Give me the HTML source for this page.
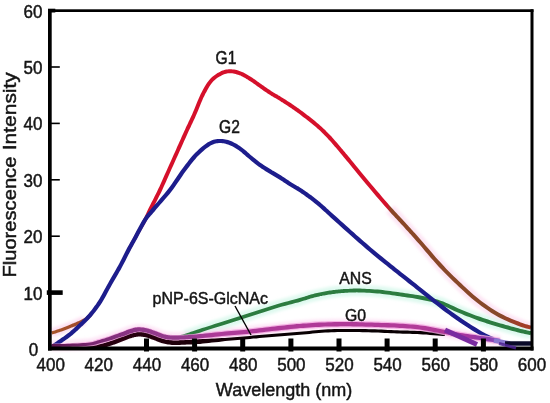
<!DOCTYPE html>
<html><head><meta charset="utf-8"><title>Fluorescence spectra</title>
<style>html,body{margin:0;padding:0;background:#fff}svg{display:block}text{font-family:"Liberation Sans",Arial,Helvetica,sans-serif;fill:#141414;stroke:#141414;stroke-width:0.45px}</style></head>
<body>
<svg width="550" height="403" viewBox="0 0 550 403">
<rect width="550" height="403" fill="#fff"/>
<defs>
<linearGradient id="gr" gradientUnits="userSpaceOnUse" x1="50" y1="0" x2="532" y2="0">
<stop offset="0.0041" stop-color="#a8562a"/>
<stop offset="0.0622" stop-color="#a04a2c"/>
<stop offset="0.0934" stop-color="#a04a2c"/>
<stop offset="0.1556" stop-color="#d5102b"/>
<stop offset="0.6992" stop-color="#d5102b"/>
<stop offset="0.7075" stop-color="#8a4626"/>
<stop offset="0.9336" stop-color="#86482a"/>
<stop offset="0.9647" stop-color="#9c3e28"/>
<stop offset="1.0000" stop-color="#a83a28"/>
</linearGradient>
<linearGradient id="gm" gradientUnits="userSpaceOnUse" x1="50" y1="0" x2="532" y2="0">
<stop offset="0.0041" stop-color="#5e1550"/>
<stop offset="0.0934" stop-color="#7a2872"/>
<stop offset="0.1867" stop-color="#90388a"/>
<stop offset="0.2905" stop-color="#963a8e"/>
<stop offset="0.3423" stop-color="#ad3a98"/>
<stop offset="0.8091" stop-color="#b23a98"/>
<stop offset="0.8714" stop-color="#a234a0"/>
<stop offset="0.9129" stop-color="#8a3cb0"/>
<stop offset="0.9336" stop-color="#8a60c8"/>
</linearGradient>
<linearGradient id="gh" gradientUnits="userSpaceOnUse" x1="50" y1="0" x2="532" y2="0">
<stop offset="0.0041" stop-color="#f3a6e0"/>
<stop offset="0.9336" stop-color="#f3a6e0"/>
</linearGradient>
<linearGradient id="gk" gradientUnits="userSpaceOnUse" x1="50" y1="0" x2="532" y2="0">
<stop offset="0.0041" stop-color="#12000a"/>
<stop offset="0.1452" stop-color="#2a0010"/>
<stop offset="0.3112" stop-color="#1a0008"/>
<stop offset="0.4357" stop-color="#080002"/>
<stop offset="1.0000" stop-color="#080002"/>
</linearGradient>
</defs>
<filter id="bl" x="-5%" y="-5%" width="110%" height="110%"><feGaussianBlur stdDeviation="1.6"/></filter>
<g fill="none" filter="url(#bl)" stroke-linecap="butt">
<path d="M390.0,209.0 C391.7,210.8 396.7,216.2 400.0,219.8 C403.3,223.4 406.7,227.1 410.0,230.8 C413.3,234.5 415.0,236.3 420.0,242.0 C425.0,247.7 433.3,257.8 440.0,265.0 C446.7,272.2 453.3,278.8 460.0,285.0 C466.7,291.2 473.3,297.4 480.0,302.5 C486.7,307.6 493.3,312.0 500.0,315.6 C506.7,319.2 514.8,322.3 520.0,324.3 C525.2,326.3 529.2,327.1 531.0,327.6" stroke="#fbd3ec" stroke-width="11" opacity="0.6"/>
<path d="M51.7,333.0 C53.1,332.6 57.0,331.4 60.0,330.3 C63.0,329.2 67.0,327.7 70.0,326.5 C73.0,325.3 75.7,324.2 78.0,323.2 C80.3,322.2 83.0,320.8 84.0,320.3" stroke="#fbd3ec" stroke-width="9" opacity="0.7"/>
<path d="M185.0,335.7 C187.5,334.9 193.3,332.9 200.0,330.7 C206.7,328.5 216.7,325.4 225.0,322.7 C233.3,320.0 241.7,317.4 250.0,314.7 C258.3,312.0 266.7,309.2 275.0,306.7 C283.3,304.2 294.2,301.5 300.0,299.9 C305.8,298.2 306.7,297.7 310.0,296.8 C313.3,295.9 316.7,295.0 320.0,294.3 C323.3,293.6 326.7,293.0 330.0,292.5 C333.3,292.0 336.7,291.6 340.0,291.3 C343.3,291.0 346.7,290.8 350.0,290.7 C353.3,290.6 355.0,290.3 360.0,290.5 C365.0,290.7 373.3,291.1 380.0,291.7 C386.7,292.3 393.3,293.4 400.0,294.4 C406.7,295.4 413.3,296.1 420.0,297.5 C426.7,298.9 433.3,300.2 440.0,302.5 C446.7,304.8 453.3,308.6 460.0,311.3 C466.7,314.1 473.3,316.7 480.0,319.0 C486.7,321.3 493.3,323.3 500.0,325.3 C506.7,327.3 514.8,329.5 520.0,330.8 C525.2,332.1 529.2,332.8 531.0,333.2" stroke="#cdf6e6" stroke-width="11" opacity="0.65"/>
<path d="M51.7,345.5 C54.8,345.4 63.6,345.4 70.0,345.2 C76.4,344.9 85.0,344.6 90.0,344.0 C95.0,343.4 96.7,342.4 100.0,341.5 C103.3,340.6 106.7,339.6 110.0,338.5 C113.3,337.4 117.5,335.9 120.0,335.0 C122.5,334.1 123.3,333.9 125.0,333.3 C126.7,332.7 127.8,331.9 130.0,331.3 C132.2,330.7 135.3,329.7 138.0,329.5 C140.7,329.3 143.2,329.7 146.0,330.3 C148.8,330.9 152.2,332.2 155.0,333.2 C157.8,334.2 160.5,335.5 163.0,336.2 C165.5,336.9 167.2,337.3 170.0,337.5 C172.8,337.7 176.7,337.7 180.0,337.6 C183.3,337.5 186.7,337.2 190.0,337.0 C193.3,336.8 194.2,336.8 200.0,336.2 C205.8,335.6 216.7,334.5 225.0,333.7 C233.3,332.9 241.7,332.4 250.0,331.5 C258.3,330.6 266.7,329.5 275.0,328.6 C283.3,327.7 291.7,326.7 300.0,326.0 C308.3,325.3 316.7,324.8 325.0,324.5 C333.3,324.2 341.7,324.1 350.0,324.2 C358.3,324.2 366.7,324.5 375.0,324.8 C383.3,325.1 392.5,325.4 400.0,325.8 C407.5,326.2 413.3,326.6 420.0,327.5 C426.7,328.4 433.3,329.8 440.0,331.0 C446.7,332.2 453.3,333.8 460.0,335.0 C466.7,336.2 473.3,337.0 480.0,338.0 C486.7,339.0 496.7,340.5 500.0,341.0" stroke="#fbd0ee" stroke-width="11" opacity="0.55"/>
</g>
<g stroke="none">
<path d="M52.2,334.4 L52.8,334.3 L53.6,334.0 L54.6,333.7 L55.7,333.4 L56.9,333.0 L58.1,332.6 L59.3,332.2 L60.5,331.8 L61.7,331.4 L63.0,330.9 L64.3,330.5 L65.6,330.0 L66.9,329.5 L68.2,329.0 L69.4,328.5 L70.6,328.1 L71.7,327.6 L72.8,327.2 L73.9,326.8 L74.9,326.4 L75.9,326.0 L76.9,325.6 L77.8,325.2 L78.7,324.8 L79.6,324.4 L80.4,324.0 L81.2,323.7 L82.0,323.3 L82.8,322.9 L83.5,322.6 L84.2,322.2 L84.9,321.8 L85.5,321.5 L86.1,321.1 L86.6,320.8 L87.2,320.4 L87.7,320.0 L88.2,319.6 L88.7,319.2 L89.2,318.7 L89.8,318.1 L90.4,317.5 L91.0,316.8 L91.6,316.1 L92.2,315.4 L92.7,314.8 L93.1,314.3 L93.4,314.0 L90.6,311.6 L90.3,312.0 L89.9,312.5 L89.4,313.1 L88.9,313.8 L88.3,314.4 L87.8,315.1 L87.2,315.6 L86.8,316.1 L86.3,316.5 L85.9,316.9 L85.5,317.2 L85.1,317.5 L84.7,317.8 L84.2,318.1 L83.7,318.4 L83.1,318.8 L82.5,319.1 L81.9,319.5 L81.2,319.8 L80.5,320.2 L79.8,320.5 L79.0,320.9 L78.2,321.2 L77.3,321.6 L76.4,322.0 L75.5,322.4 L74.6,322.8 L73.6,323.2 L72.6,323.6 L71.6,324.1 L70.5,324.5 L69.4,324.9 L68.2,325.4 L67.0,325.9 L65.7,326.4 L64.4,326.9 L63.1,327.4 L61.9,327.9 L60.6,328.4 L59.5,328.8 L58.3,329.2 L57.1,329.6 L55.9,330.0 L54.8,330.4 L53.7,330.8 L52.7,331.1 L51.9,331.3 L51.2,331.6Z" fill="url(#gr)"/>
<path d="M130.0,250.8 L130.4,250.1 L130.8,249.3 L131.4,248.2 L132.1,247.1 L132.8,245.7 L133.6,244.3 L134.5,242.6 L135.5,240.8 L136.6,238.7 L138.0,236.3 L139.5,233.6 L141.0,230.8 L142.6,228.0 L144.1,225.4 L145.5,223.0 L146.6,220.9 L147.5,219.2 L148.2,217.9 L148.8,216.8 L149.3,215.8 L149.8,214.9 L150.3,213.8 L150.9,212.5 L151.8,210.9 L152.8,208.9 L154.0,206.6 L155.2,204.1 L156.5,201.5 L157.9,198.8 L159.2,196.1 L160.6,193.4 L161.8,190.9 L163.0,188.3 L164.1,185.8 L165.3,183.3 L166.4,180.8 L167.5,178.3 L168.6,175.8 L169.7,173.3 L170.8,170.8 L171.9,168.3 L173.1,165.8 L174.2,163.3 L175.3,160.8 L176.4,158.3 L177.6,155.8 L178.7,153.3 L179.8,150.8 L181.0,148.3 L182.1,145.7 L183.3,143.1 L184.4,140.5 L185.6,138.0 L186.7,135.5 L187.8,133.1 L188.8,130.8 L189.8,128.8 L190.7,126.9 L191.5,125.1 L192.3,123.4 L193.2,121.6 L194.0,119.8 L194.9,117.9 L195.8,115.8 L196.8,113.5 L197.9,111.0 L198.9,108.4 L200.0,105.7 L201.1,103.0 L202.2,100.5 L203.2,98.1 L204.3,95.9 L205.3,93.8 L206.4,91.9 L207.4,90.0 L208.4,88.2 L209.4,86.6 L210.4,85.0 L211.5,83.6 L212.5,82.3 L213.6,81.1 L214.8,80.0 L215.9,79.0 L217.1,78.1 L218.3,77.3 L219.6,76.6 L220.8,75.9 L221.9,75.3 L223.0,74.8 L224.0,74.3 L225.0,74.0 L226.0,73.7 L227.0,73.5 L227.9,73.3 L229.0,73.2 L230.0,73.2 L231.1,73.2 L232.2,73.3 L233.3,73.5 L234.5,73.7 L235.7,74.0 L236.9,74.4 L238.1,74.7 L239.3,75.2 L240.5,75.6 L241.6,76.2 L242.8,76.8 L244.0,77.4 L245.2,78.1 L246.5,78.9 L247.7,79.6 L248.9,80.4 L250.2,81.2 L251.4,82.0 L252.6,82.8 L253.8,83.7 L255.1,84.6 L256.3,85.5 L257.6,86.4 L258.9,87.3 L260.1,88.2 L261.3,89.1 L262.6,90.0 L263.9,90.9 L265.1,91.7 L266.4,92.6 L267.6,93.4 L268.9,94.3 L270.2,95.1 L271.5,95.9 L272.7,96.6 L274.0,97.4 L275.2,98.1 L276.5,98.8 L277.7,99.5 L279.0,100.3 L280.2,101.1 L281.4,101.9 L282.7,102.6 L283.9,103.4 L285.2,104.2 L286.4,105.0 L287.6,105.8 L288.9,106.7 L290.1,107.5 L291.4,108.3 L292.6,109.2 L293.9,110.1 L295.1,110.9 L296.3,111.8 L297.6,112.7 L298.8,113.6 L300.1,114.5 L301.3,115.5 L302.5,116.4 L303.8,117.4 L305.0,118.3 L306.3,119.3 L307.5,120.3 L308.8,121.3 L310.0,122.3 L311.3,123.3 L312.5,124.3 L313.7,125.3 L315.0,126.3 L316.2,127.3 L317.4,128.4 L318.7,129.5 L319.9,130.6 L321.1,131.8 L322.3,133.0 L323.6,134.2 L324.8,135.5 L326.1,136.7 L327.3,138.0 L328.5,139.4 L329.8,140.7 L331.0,142.1 L332.2,143.5 L333.5,144.9 L334.7,146.4 L336.0,147.8 L337.2,149.3 L338.5,150.8 L339.7,152.2 L340.7,153.5 L341.8,154.7 L342.8,156.0 L344.0,157.4 L345.3,158.9 L346.7,160.7 L348.5,162.8 L350.5,165.2 L352.7,168.0 L355.2,171.0 L357.8,174.2 L360.5,177.5 L363.2,180.8 L365.9,184.0 L368.5,187.1 L371.0,190.1 L373.7,193.3 L376.4,196.4 L379.1,199.6 L381.7,202.6 L384.2,205.4 L386.5,208.0 L388.5,210.3 L390.2,212.3 L391.7,213.9 L393.0,215.3 L394.2,216.5 L395.2,217.7 L396.3,218.8 L397.4,219.9 L398.5,221.2 L399.8,222.5 L401.0,223.9 L402.3,225.2 L403.5,226.6 L404.8,228.0 L406.0,229.4 L407.3,230.8 L408.5,232.1 L409.7,233.5 L410.8,234.6 L411.8,235.8 L412.9,237.0 L414.0,238.3 L415.3,239.7 L416.8,241.4 L418.5,243.3 L420.5,245.6 L422.8,248.3 L425.2,251.2 L427.9,254.3 L430.5,257.4 L433.3,260.5 L435.9,263.5 L438.5,266.4 L441.0,269.0 L443.6,271.7 L446.1,274.2 L448.6,276.8 L451.1,279.2 L453.6,281.7 L456.1,284.1 L458.6,286.5 L461.1,288.8 L463.6,291.1 L466.2,293.4 L468.7,295.7 L471.2,297.9 L473.7,300.0 L476.2,302.1 L478.8,304.1 L481.3,306.0 L483.8,307.8 L486.4,309.6 L488.9,311.3 L491.4,312.9 L494.0,314.5 L496.5,315.9 L499.1,317.4 L501.7,318.7 L504.4,320.0 L507.1,321.3 L509.8,322.4 L512.4,323.5 L514.9,324.5 L517.2,325.4 L519.3,326.2 L521.2,326.9 L523.0,327.5 L524.7,328.0 L526.2,328.4 L527.6,328.8 L528.7,329.1 L529.7,329.3 L530.5,329.5 L531.5,325.7 L530.7,325.4 L529.7,325.2 L528.6,324.9 L527.3,324.6 L525.8,324.2 L524.3,323.7 L522.5,323.1 L520.7,322.4 L518.7,321.6 L516.4,320.7 L513.9,319.8 L511.3,318.7 L508.7,317.6 L506.1,316.4 L503.5,315.1 L500.9,313.8 L498.5,312.5 L496.0,311.0 L493.6,309.5 L491.1,307.9 L488.6,306.3 L486.2,304.6 L483.7,302.8 L481.2,300.9 L478.8,299.0 L476.3,297.0 L473.8,294.9 L471.3,292.7 L468.8,290.5 L466.4,288.2 L463.9,285.9 L461.4,283.5 L458.9,281.2 L456.4,278.8 L453.9,276.4 L451.4,273.9 L448.9,271.4 L446.4,268.9 L444.0,266.3 L441.5,263.6 L438.9,260.8 L436.3,257.9 L433.6,254.8 L430.9,251.6 L428.3,248.6 L425.8,245.7 L423.5,243.0 L421.5,240.7 L419.8,238.7 L418.3,237.0 L417.0,235.6 L415.9,234.3 L414.8,233.1 L413.7,232.0 L412.7,230.8 L411.5,229.5 L410.2,228.1 L409.0,226.7 L407.7,225.3 L406.5,223.9 L405.2,222.6 L404.0,221.2 L402.7,219.8 L401.5,218.4 L400.3,217.2 L399.2,216.0 L398.1,214.9 L397.1,213.8 L395.9,212.6 L394.7,211.2 L393.2,209.6 L391.5,207.7 L389.5,205.4 L387.2,202.8 L384.7,199.9 L382.1,196.9 L379.5,193.8 L376.8,190.7 L374.1,187.5 L371.5,184.5 L369.0,181.5 L366.3,178.2 L363.6,175.0 L360.9,171.7 L358.3,168.5 L355.8,165.5 L353.6,162.7 L351.5,160.2 L349.8,158.1 L348.3,156.3 L347.1,154.8 L345.9,153.4 L344.8,152.1 L343.8,150.9 L342.7,149.6 L341.5,148.2 L340.3,146.7 L339.0,145.3 L337.8,143.8 L336.5,142.3 L335.3,140.9 L334.0,139.4 L332.7,138.0 L331.5,136.6 L330.2,135.3 L328.9,134.0 L327.7,132.7 L326.4,131.4 L325.2,130.1 L323.9,128.9 L322.6,127.7 L321.3,126.5 L320.1,125.4 L318.8,124.3 L317.5,123.2 L316.3,122.2 L315.0,121.1 L313.7,120.1 L312.5,119.1 L311.2,118.1 L310.0,117.1 L308.7,116.1 L307.5,115.2 L306.2,114.2 L305.0,113.2 L303.7,112.3 L302.4,111.3 L301.2,110.4 L299.9,109.5 L298.7,108.6 L297.4,107.7 L296.1,106.8 L294.9,105.9 L293.6,105.0 L292.4,104.2 L291.1,103.3 L289.9,102.5 L288.6,101.7 L287.3,100.9 L286.1,100.1 L284.8,99.3 L283.6,98.5 L282.3,97.7 L281.0,96.9 L279.8,96.1 L278.5,95.4 L277.3,94.6 L276.0,93.9 L274.8,93.2 L273.5,92.4 L272.3,91.7 L271.1,90.9 L269.9,90.1 L268.6,89.3 L267.4,88.4 L266.1,87.6 L264.9,86.7 L263.7,85.8 L262.4,84.9 L261.1,84.1 L259.9,83.2 L258.7,82.3 L257.4,81.4 L256.2,80.5 L254.9,79.6 L253.6,78.7 L252.3,77.8 L251.1,77.0 L249.8,76.2 L248.5,75.4 L247.3,74.7 L246.0,73.9 L244.7,73.2 L243.4,72.6 L242.0,72.0 L240.7,71.4 L239.4,71.0 L238.1,70.5 L236.7,70.1 L235.4,69.8 L234.0,69.5 L232.7,69.4 L231.3,69.2 L230.0,69.2 L228.7,69.2 L227.5,69.4 L226.2,69.5 L225.0,69.8 L223.8,70.2 L222.6,70.6 L221.3,71.1 L220.1,71.7 L218.8,72.4 L217.5,73.1 L216.2,74.0 L214.8,74.9 L213.4,75.9 L212.1,77.1 L210.8,78.3 L209.5,79.7 L208.3,81.2 L207.1,82.8 L206.0,84.4 L204.9,86.2 L203.9,88.1 L202.8,90.0 L201.8,92.0 L200.7,94.1 L199.6,96.4 L198.5,98.9 L197.4,101.5 L196.3,104.2 L195.2,106.9 L194.2,109.5 L193.1,111.9 L192.2,114.2 L191.2,116.3 L190.4,118.1 L189.5,119.9 L188.7,121.6 L187.9,123.4 L187.0,125.2 L186.1,127.1 L185.2,129.2 L184.1,131.4 L183.1,133.8 L181.9,136.3 L180.8,138.9 L179.6,141.5 L178.5,144.1 L177.3,146.6 L176.2,149.2 L175.1,151.7 L173.9,154.2 L172.8,156.7 L171.7,159.2 L170.6,161.7 L169.4,164.2 L168.3,166.7 L167.2,169.2 L166.1,171.7 L164.9,174.2 L163.8,176.7 L162.7,179.2 L161.6,181.7 L160.5,184.2 L159.4,186.7 L158.2,189.1 L157.0,191.7 L155.7,194.3 L154.3,197.0 L153.0,199.7 L151.6,202.3 L150.4,204.8 L149.2,207.1 L148.2,209.1 L147.4,210.8 L146.8,212.1 L146.3,213.2 L145.8,214.2 L145.4,215.1 L144.9,216.2 L144.2,217.5 L143.4,219.1 L142.3,221.2 L141.0,223.7 L139.6,226.4 L138.0,229.2 L136.5,232.0 L135.0,234.6 L133.7,237.1 L132.5,239.2 L131.5,241.0 L130.6,242.6 L129.8,244.1 L129.1,245.4 L128.4,246.6 L127.9,247.6 L127.4,248.5 L127.0,249.2Z" fill="url(#gr)"/>
<path d="M168.0,339.2 L168.6,339.3 L169.4,339.4 L170.3,339.5 L171.4,339.6 L172.6,339.6 L173.8,339.7 L175.0,339.7 L176.2,339.6 L177.3,339.5 L178.4,339.3 L179.4,339.1 L180.5,338.9 L181.6,338.6 L182.8,338.2 L184.1,337.9 L185.5,337.4 L187.1,336.9 L188.7,336.4 L190.3,335.9 L192.1,335.3 L194.0,334.6 L196.0,333.9 L198.2,333.2 L200.6,332.4 L203.2,331.6 L206.1,330.6 L209.2,329.6 L212.4,328.6 L215.7,327.6 L219.1,326.5 L222.4,325.5 L225.6,324.4 L228.7,323.4 L231.8,322.4 L234.9,321.4 L238.1,320.4 L241.2,319.4 L244.3,318.4 L247.4,317.5 L250.6,316.5 L253.7,315.4 L256.8,314.4 L259.9,313.4 L263.1,312.4 L266.2,311.4 L269.3,310.4 L272.4,309.4 L275.5,308.5 L278.7,307.6 L282.1,306.6 L285.5,305.7 L288.9,304.8 L292.2,303.9 L295.3,303.1 L298.1,302.4 L300.5,301.7 L302.5,301.1 L304.1,300.6 L305.4,300.2 L306.5,299.9 L307.5,299.5 L308.4,299.2 L309.4,298.9 L310.5,298.6 L311.7,298.3 L313.0,297.9 L314.2,297.6 L315.5,297.3 L316.7,297.0 L317.9,296.7 L319.2,296.4 L320.4,296.1 L321.6,295.9 L322.9,295.6 L324.1,295.4 L325.3,295.2 L326.6,295.0 L327.8,294.8 L329.0,294.6 L330.3,294.4 L331.5,294.2 L332.8,294.0 L334.0,293.9 L335.2,293.7 L336.5,293.6 L337.7,293.4 L338.9,293.3 L340.2,293.2 L341.4,293.1 L342.6,293.0 L343.9,292.9 L345.1,292.8 L346.3,292.8 L347.6,292.7 L348.8,292.6 L350.1,292.6 L351.3,292.5 L352.4,292.5 L353.4,292.4 L354.4,292.4 L355.6,292.4 L356.8,292.3 L358.2,292.4 L359.9,292.4 L361.9,292.5 L364.2,292.6 L366.7,292.7 L369.3,292.8 L371.9,293.0 L374.6,293.2 L377.3,293.4 L379.8,293.6 L382.3,293.9 L384.8,294.2 L387.2,294.5 L389.7,294.8 L392.2,295.2 L394.7,295.6 L397.2,295.9 L399.7,296.3 L402.2,296.7 L404.7,297.0 L407.2,297.4 L409.7,297.7 L412.2,298.1 L414.7,298.5 L417.2,298.9 L419.6,299.4 L422.1,299.9 L424.6,300.4 L427.1,301.0 L429.5,301.5 L432.0,302.1 L434.5,302.8 L436.9,303.5 L439.4,304.3 L441.8,305.2 L444.2,306.3 L446.7,307.3 L449.2,308.5 L451.7,309.7 L454.2,310.9 L456.7,312.0 L459.2,313.1 L461.8,314.1 L464.3,315.2 L466.8,316.2 L469.3,317.1 L471.8,318.1 L474.3,319.0 L476.8,320.0 L479.3,320.9 L481.9,321.7 L484.4,322.6 L486.9,323.4 L489.4,324.2 L491.9,324.9 L494.4,325.7 L496.9,326.5 L499.4,327.2 L502.0,328.0 L504.7,328.7 L507.4,329.5 L510.0,330.2 L512.6,330.9 L515.1,331.6 L517.4,332.2 L519.5,332.7 L521.4,333.2 L523.2,333.6 L524.8,334.0 L526.3,334.3 L527.7,334.6 L528.8,334.8 L529.8,335.0 L530.6,335.2 L531.4,331.2 L530.6,331.1 L529.6,330.9 L528.5,330.7 L527.2,330.4 L525.7,330.1 L524.1,329.7 L522.3,329.3 L520.5,328.9 L518.4,328.3 L516.1,327.7 L513.7,327.1 L511.1,326.4 L508.4,325.6 L505.8,324.9 L503.1,324.1 L500.6,323.4 L498.1,322.7 L495.6,321.9 L493.1,321.2 L490.6,320.4 L488.1,319.6 L485.6,318.8 L483.1,318.0 L480.7,317.1 L478.2,316.3 L475.7,315.4 L473.2,314.4 L470.7,313.5 L468.2,312.5 L465.7,311.5 L463.2,310.5 L460.8,309.5 L458.3,308.4 L455.8,307.3 L453.3,306.1 L450.8,305.0 L448.3,303.8 L445.8,302.7 L443.2,301.6 L440.6,300.7 L438.1,299.8 L435.5,299.1 L433.0,298.4 L430.5,297.8 L427.9,297.2 L425.4,296.6 L422.9,296.1 L420.4,295.6 L417.8,295.1 L415.3,294.7 L412.8,294.3 L410.3,293.9 L407.8,293.5 L405.3,293.2 L402.8,292.8 L400.3,292.5 L397.8,292.1 L395.3,291.8 L392.8,291.4 L390.3,291.0 L387.8,290.7 L385.2,290.4 L382.7,290.1 L380.2,289.8 L377.6,289.6 L374.9,289.4 L372.2,289.2 L369.5,289.0 L366.9,288.9 L364.4,288.8 L362.1,288.7 L360.1,288.6 L358.3,288.6 L356.8,288.5 L355.5,288.6 L354.3,288.6 L353.2,288.6 L352.2,288.7 L351.1,288.8 L349.9,288.8 L348.7,288.9 L347.4,288.9 L346.2,289.0 L344.9,289.0 L343.6,289.1 L342.4,289.2 L341.1,289.3 L339.8,289.4 L338.6,289.5 L337.3,289.7 L336.0,289.8 L334.8,290.0 L333.5,290.1 L332.2,290.3 L331.0,290.5 L329.7,290.6 L328.5,290.8 L327.2,291.0 L325.9,291.2 L324.7,291.5 L323.4,291.7 L322.1,291.9 L320.9,292.2 L319.6,292.5 L318.3,292.7 L317.1,293.0 L315.8,293.3 L314.5,293.6 L313.3,294.0 L312.0,294.3 L310.8,294.6 L309.5,295.0 L308.3,295.3 L307.3,295.7 L306.3,296.0 L305.3,296.3 L304.3,296.7 L303.0,297.1 L301.4,297.5 L299.5,298.1 L297.1,298.8 L294.3,299.5 L291.2,300.3 L288.0,301.2 L284.6,302.1 L281.1,303.0 L277.7,304.0 L274.5,304.9 L271.3,305.9 L268.2,306.9 L265.1,307.9 L261.9,308.9 L258.8,309.9 L255.7,310.9 L252.6,311.9 L249.4,312.9 L246.3,313.9 L243.2,315.0 L240.1,316.0 L236.9,317.0 L233.8,318.0 L230.7,319.0 L227.6,320.0 L224.4,321.0 L221.3,322.0 L218.0,323.0 L214.6,324.1 L211.3,325.2 L208.1,326.2 L205.0,327.2 L202.1,328.1 L199.4,329.0 L197.0,329.8 L194.8,330.5 L192.8,331.2 L190.9,331.8 L189.2,332.4 L187.5,333.0 L186.0,333.5 L184.5,334.0 L183.1,334.4 L181.8,334.8 L180.6,335.1 L179.6,335.4 L178.6,335.7 L177.7,336.0 L176.8,336.2 L175.8,336.4 L174.8,336.5 L173.7,336.6 L172.6,336.7 L171.5,336.7 L170.4,336.7 L169.5,336.7 L168.7,336.7 L168.0,336.8Z" fill="#2c7c40"/>
<path d="M52.9,348.8 L53.5,348.3 L54.3,347.8 L55.3,347.2 L56.4,346.5 L57.6,345.7 L58.8,344.9 L60.0,344.0 L61.2,343.2 L62.4,342.4 L63.6,341.6 L64.8,340.7 L66.1,339.8 L67.4,338.9 L68.7,338.0 L70.0,337.0 L71.3,335.9 L72.6,334.9 L73.9,333.8 L75.1,332.7 L76.4,331.5 L77.7,330.4 L78.9,329.2 L80.2,328.0 L81.4,326.8 L82.7,325.7 L83.9,324.5 L85.2,323.3 L86.5,322.1 L87.7,320.8 L89.0,319.5 L90.3,318.1 L91.6,316.7 L92.9,315.1 L94.1,313.6 L95.4,312.0 L96.7,310.3 L98.0,308.6 L99.2,306.8 L100.5,304.9 L101.8,302.9 L103.0,300.9 L104.3,298.7 L105.6,296.4 L106.8,294.2 L108.1,291.8 L109.3,289.5 L110.6,287.3 L111.8,285.0 L113.1,282.8 L114.4,280.6 L115.6,278.4 L116.9,276.2 L118.2,274.0 L119.4,271.8 L120.7,269.7 L121.8,267.5 L123.0,265.3 L124.2,263.1 L125.3,260.9 L126.4,258.7 L127.5,256.6 L128.5,254.6 L129.5,252.7 L130.4,251.0 L131.1,249.5 L131.8,248.3 L132.4,247.2 L132.9,246.2 L133.5,245.2 L134.1,244.1 L134.9,242.7 L135.8,241.0 L137.0,238.9 L138.3,236.5 L139.7,233.8 L141.2,231.0 L142.7,228.2 L144.2,225.6 L145.5,223.2 L146.8,221.1 L147.8,219.5 L148.7,218.3 L149.5,217.3 L150.2,216.4 L151.0,215.4 L152.0,214.4 L153.2,213.0 L154.6,211.4 L156.3,209.3 L158.3,207.1 L160.4,204.6 L162.7,202.0 L165.0,199.3 L167.4,196.6 L169.6,193.9 L171.7,191.3 L173.6,188.7 L175.5,186.1 L177.2,183.5 L179.0,180.9 L180.7,178.4 L182.4,175.9 L184.0,173.5 L185.7,171.2 L187.4,169.0 L189.0,166.9 L190.6,164.8 L192.2,162.7 L193.8,160.8 L195.4,158.9 L196.9,157.1 L198.5,155.5 L200.1,153.9 L201.7,152.4 L203.4,150.9 L205.0,149.5 L206.6,148.3 L208.2,147.2 L209.6,146.2 L211.0,145.3 L212.3,144.7 L213.5,144.2 L214.6,143.8 L215.6,143.5 L216.7,143.3 L217.8,143.2 L218.9,143.1 L220.0,143.1 L221.2,143.1 L222.3,143.2 L223.4,143.3 L224.6,143.5 L225.7,143.8 L226.9,144.2 L228.1,144.5 L229.2,145.0 L230.4,145.4 L231.6,146.0 L232.8,146.6 L234.0,147.2 L235.2,147.9 L236.4,148.7 L237.6,149.5 L238.8,150.3 L240.0,151.2 L241.2,152.1 L242.4,153.2 L243.6,154.2 L244.9,155.3 L246.1,156.4 L247.4,157.5 L248.7,158.6 L249.9,159.6 L251.2,160.7 L252.4,161.7 L253.7,162.8 L254.9,163.8 L256.2,164.8 L257.5,165.8 L258.8,166.7 L260.1,167.6 L261.3,168.5 L262.6,169.3 L263.9,170.1 L265.1,170.9 L266.4,171.7 L267.7,172.4 L268.9,173.2 L270.2,174.0 L271.4,174.7 L272.7,175.5 L273.9,176.2 L275.2,176.9 L276.4,177.7 L277.7,178.4 L278.9,179.2 L280.1,180.0 L281.3,180.8 L282.6,181.6 L283.8,182.4 L285.1,183.3 L286.3,184.1 L287.6,185.0 L288.9,185.8 L290.2,186.6 L291.4,187.3 L292.7,188.1 L293.9,188.8 L295.2,189.5 L296.4,190.2 L297.6,191.0 L298.9,191.8 L300.1,192.6 L301.3,193.4 L302.6,194.2 L303.8,195.1 L305.0,196.0 L306.3,196.9 L307.5,197.8 L308.7,198.7 L310.0,199.6 L311.2,200.6 L312.5,201.5 L313.7,202.5 L314.9,203.5 L316.2,204.5 L317.4,205.6 L318.6,206.6 L319.8,207.6 L320.9,208.5 L321.9,209.5 L323.0,210.4 L324.1,211.5 L325.4,212.6 L326.9,214.0 L328.6,215.6 L330.6,217.4 L332.9,219.4 L335.4,221.7 L338.0,224.0 L340.7,226.5 L343.4,228.9 L346.0,231.3 L348.6,233.6 L351.1,235.8 L353.6,238.0 L356.1,240.2 L358.6,242.4 L361.1,244.6 L363.6,246.8 L366.1,249.0 L368.6,251.1 L371.2,253.3 L373.9,255.5 L376.6,257.7 L379.3,259.9 L381.9,262.0 L384.4,264.0 L386.7,265.8 L388.7,267.4 L390.3,268.8 L391.7,269.8 L392.7,270.7 L393.7,271.5 L394.7,272.2 L395.7,273.1 L397.0,274.1 L398.7,275.4 L400.7,277.0 L403.0,278.8 L405.5,280.8 L408.1,282.9 L410.8,285.0 L413.5,287.1 L416.1,289.2 L418.7,291.2 L421.2,293.2 L423.7,295.2 L426.2,297.2 L428.7,299.2 L431.2,301.2 L433.7,303.2 L436.2,305.1 L438.7,307.1 L441.2,309.0 L443.7,310.9 L446.2,312.7 L448.8,314.6 L451.3,316.4 L453.8,318.2 L456.3,320.0 L458.8,321.7 L461.4,323.5 L464.1,325.2 L466.8,327.0 L469.5,328.7 L472.1,330.4 L474.6,331.9 L476.9,333.3 L478.9,334.5 L480.7,335.5 L482.3,336.4 L483.7,337.1 L484.9,337.7 L486.0,338.3 L487.1,338.8 L488.1,339.2 L489.1,339.7 L490.2,340.2 L491.3,340.7 L492.3,341.1 L493.3,341.6 L494.2,341.9 L495.0,342.3 L495.7,342.5 L496.2,342.7 L497.8,338.9 L497.3,338.6 L496.6,338.4 L495.8,338.0 L494.9,337.7 L494.0,337.3 L493.0,336.8 L491.9,336.4 L490.9,335.9 L489.8,335.4 L488.8,334.9 L487.8,334.5 L486.7,334.0 L485.6,333.4 L484.3,332.7 L482.8,331.9 L481.1,330.9 L479.1,329.7 L476.8,328.3 L474.3,326.8 L471.7,325.2 L469.1,323.5 L466.4,321.7 L463.7,320.0 L461.2,318.3 L458.7,316.6 L456.2,314.8 L453.7,313.0 L451.2,311.2 L448.8,309.4 L446.3,307.5 L443.8,305.6 L441.3,303.7 L438.8,301.8 L436.3,299.9 L433.8,297.9 L431.3,295.9 L428.8,293.9 L426.3,291.9 L423.8,289.9 L421.3,288.0 L418.7,285.9 L416.1,283.8 L413.4,281.7 L410.7,279.6 L408.1,277.5 L405.6,275.6 L403.3,273.8 L401.3,272.2 L399.6,270.8 L398.3,269.8 L397.3,268.9 L396.3,268.2 L395.4,267.4 L394.3,266.6 L393.0,265.5 L391.3,264.2 L389.3,262.5 L387.0,260.7 L384.6,258.7 L381.9,256.6 L379.3,254.4 L376.6,252.2 L373.9,250.0 L371.4,247.9 L368.9,245.8 L366.4,243.6 L363.9,241.5 L361.4,239.3 L358.9,237.1 L356.4,234.9 L353.9,232.6 L351.4,230.4 L348.8,228.1 L346.2,225.8 L343.5,223.3 L340.8,220.9 L338.2,218.6 L335.7,216.3 L333.4,214.3 L331.4,212.4 L329.7,210.9 L328.2,209.5 L326.9,208.4 L325.8,207.3 L324.7,206.3 L323.7,205.4 L322.6,204.4 L321.4,203.4 L320.1,202.3 L318.8,201.3 L317.6,200.3 L316.3,199.2 L315.0,198.2 L313.8,197.2 L312.5,196.3 L311.3,195.3 L310.0,194.4 L308.7,193.5 L307.5,192.5 L306.2,191.7 L304.9,190.8 L303.7,189.9 L302.4,189.1 L301.1,188.2 L299.9,187.4 L298.6,186.6 L297.3,185.9 L296.1,185.2 L294.8,184.4 L293.6,183.7 L292.3,183.0 L291.1,182.2 L289.9,181.4 L288.7,180.6 L287.4,179.8 L286.2,179.0 L284.9,178.1 L283.7,177.3 L282.4,176.4 L281.1,175.6 L279.8,174.8 L278.6,174.1 L277.3,173.3 L276.1,172.6 L274.8,171.8 L273.6,171.1 L272.3,170.4 L271.1,169.6 L269.8,168.8 L268.6,168.1 L267.4,167.3 L266.1,166.5 L264.9,165.8 L263.7,165.0 L262.4,164.1 L261.2,163.3 L260.0,162.4 L258.8,161.5 L257.6,160.5 L256.3,159.5 L255.1,158.5 L253.8,157.4 L252.6,156.4 L251.3,155.4 L250.1,154.4 L248.9,153.3 L247.6,152.2 L246.4,151.1 L245.1,150.0 L243.8,148.9 L242.5,147.9 L241.2,146.9 L239.9,146.0 L238.6,145.2 L237.3,144.3 L236.0,143.6 L234.7,142.9 L233.4,142.2 L232.1,141.6 L230.8,141.0 L229.4,140.6 L228.1,140.1 L226.8,139.8 L225.4,139.4 L224.1,139.2 L222.7,139.0 L221.3,138.9 L220.0,138.9 L218.7,138.9 L217.4,139.0 L216.1,139.2 L214.7,139.4 L213.4,139.8 L212.0,140.2 L210.5,140.9 L209.0,141.7 L207.4,142.6 L205.8,143.7 L204.1,144.9 L202.4,146.3 L200.6,147.7 L198.9,149.2 L197.2,150.9 L195.5,152.5 L193.8,154.3 L192.2,156.1 L190.5,158.1 L188.9,160.1 L187.3,162.2 L185.6,164.3 L184.0,166.5 L182.3,168.8 L180.6,171.1 L178.9,173.5 L177.2,176.0 L175.5,178.6 L173.8,181.1 L172.0,183.7 L170.2,186.2 L168.3,188.7 L166.3,191.2 L164.1,193.9 L161.9,196.6 L159.5,199.2 L157.3,201.9 L155.1,204.3 L153.1,206.6 L151.4,208.6 L150.0,210.3 L148.9,211.6 L147.9,212.6 L147.0,213.6 L146.2,214.6 L145.3,215.8 L144.3,217.2 L143.2,218.9 L141.9,221.0 L140.5,223.5 L139.0,226.2 L137.5,229.0 L136.0,231.8 L134.6,234.5 L133.3,236.9 L132.2,239.0 L131.2,240.7 L130.5,242.0 L129.8,243.2 L129.3,244.2 L128.7,245.2 L128.1,246.3 L127.4,247.5 L126.6,249.0 L125.7,250.8 L124.7,252.7 L123.7,254.7 L122.7,256.8 L121.6,259.0 L120.4,261.2 L119.3,263.4 L118.2,265.5 L117.0,267.6 L115.8,269.8 L114.5,271.9 L113.3,274.1 L112.0,276.3 L110.7,278.5 L109.4,280.7 L108.2,283.0 L106.9,285.2 L105.7,287.5 L104.4,289.8 L103.2,292.1 L101.9,294.4 L100.7,296.6 L99.5,298.7 L98.2,300.7 L97.0,302.6 L95.8,304.4 L94.5,306.1 L93.3,307.8 L92.1,309.4 L90.9,311.0 L89.6,312.5 L88.4,313.9 L87.2,315.3 L86.0,316.6 L84.8,317.9 L83.5,319.1 L82.3,320.3 L81.1,321.4 L79.8,322.6 L78.6,323.8 L77.3,325.0 L76.1,326.1 L74.8,327.3 L73.6,328.4 L72.4,329.5 L71.1,330.6 L69.9,331.7 L68.7,332.7 L67.5,333.6 L66.2,334.6 L64.9,335.5 L63.7,336.4 L62.4,337.3 L61.2,338.1 L60.0,339.0 L58.8,339.8 L57.6,340.6 L56.4,341.4 L55.2,342.2 L54.1,342.9 L53.0,343.7 L52.0,344.3 L51.2,344.8 L50.5,345.2Z" fill="#1d1d8c"/>
<path d="M51.7,349.5 L54.9,349.5 L59.3,349.6 L64.5,349.6 L70.2,349.6 L76.1,349.7 L81.5,349.7 L86.4,349.7 L90.1,349.6 L92.7,349.6 L94.6,349.5 L96.1,349.4 L97.1,349.3 L98.0,349.1 L98.7,348.9 L99.5,348.8 L100.5,348.5 L101.8,348.3 L103.1,348.0 L104.4,347.6 L105.6,347.3 L106.9,346.9 L108.2,346.5 L109.5,346.1 L110.7,345.7 L112.0,345.3 L113.3,344.8 L114.6,344.4 L115.8,343.9 L117.1,343.4 L118.3,342.9 L119.6,342.4 L120.8,342.0 L122.1,341.5 L123.4,341.0 L124.7,340.4 L126.0,339.9 L127.2,339.4 L128.4,339.0 L129.6,338.6 L130.7,338.2 L131.8,337.9 L132.8,337.6 L133.7,337.4 L134.6,337.1 L135.5,337.0 L136.4,336.8 L137.3,336.7 L138.1,336.6 L139.0,336.6 L139.9,336.6 L140.8,336.6 L141.7,336.7 L142.6,336.8 L143.6,336.9 L144.5,337.1 L145.5,337.3 L146.5,337.5 L147.5,337.8 L148.6,338.2 L149.7,338.6 L150.8,339.0 L152.0,339.4 L153.1,339.8 L154.2,340.2 L155.2,340.6 L156.2,341.0 L157.1,341.4 L158.1,341.8 L159.1,342.2 L160.2,342.6 L161.2,342.9 L162.4,343.3 L163.5,343.6 L164.6,343.8 L165.7,344.1 L166.8,344.3 L167.9,344.5 L169.2,344.6 L170.5,344.8 L171.9,344.9 L173.4,344.9 L174.9,345.0 L176.5,345.0 L178.2,344.9 L179.9,344.9 L181.6,344.8 L183.3,344.7 L185.1,344.7 L186.8,344.6 L188.5,344.6 L190.2,344.5 L191.9,344.4 L193.7,344.3 L195.6,344.2 L197.8,344.1 L200.2,343.9 L202.8,343.6 L205.7,343.3 L208.8,343.0 L212.0,342.6 L215.3,342.2 L218.7,341.9 L222.0,341.5 L225.1,341.1 L228.3,340.8 L231.4,340.5 L234.5,340.2 L237.6,340.0 L240.8,339.7 L243.9,339.4 L247.0,339.2 L250.1,338.9 L253.3,338.6 L256.4,338.4 L259.5,338.1 L262.6,337.8 L265.8,337.5 L268.9,337.2 L272.0,337.0 L275.1,336.7 L278.2,336.5 L281.4,336.2 L284.5,336.0 L287.6,335.8 L290.7,335.6 L293.9,335.3 L297.0,335.1 L300.1,334.8 L303.3,334.5 L306.4,334.2 L309.5,333.9 L312.7,333.6 L315.8,333.3 L318.9,333.0 L322.0,332.7 L325.1,332.5 L328.2,332.4 L331.3,332.3 L334.4,332.2 L337.5,332.1 L340.6,332.1 L343.8,332.1 L346.9,332.1 L350.0,332.1 L353.1,332.1 L356.2,332.1 L359.4,332.1 L362.5,332.2 L365.6,332.2 L368.7,332.3 L371.8,332.4 L375.0,332.5 L378.1,332.6 L381.3,332.7 L384.5,332.9 L387.7,333.0 L390.9,333.2 L394.0,333.3 L397.0,333.5 L399.9,333.6 L402.7,333.7 L405.2,333.7 L407.6,333.8 L410.0,333.8 L412.3,333.9 L414.7,334.0 L417.2,334.1 L419.9,334.2 L423.0,334.4 L426.4,334.6 L430.0,334.9 L433.6,335.2 L437.1,335.5 L440.3,335.7 L442.9,335.9 L444.9,336.1 L445.1,332.9 L443.2,332.8 L440.5,332.5 L437.4,332.3 L433.9,332.0 L430.2,331.7 L426.6,331.4 L423.2,331.2 L420.1,331.0 L417.4,330.9 L414.8,330.8 L412.4,330.7 L410.0,330.7 L407.7,330.6 L405.3,330.6 L402.8,330.5 L400.1,330.4 L397.2,330.3 L394.2,330.2 L391.1,330.0 L387.9,329.9 L384.7,329.7 L381.4,329.6 L378.2,329.4 L375.0,329.3 L371.9,329.2 L368.8,329.2 L365.7,329.1 L362.5,329.0 L359.4,329.0 L356.3,329.0 L353.1,328.9 L350.0,328.9 L346.9,329.0 L343.7,329.0 L340.6,329.0 L337.5,329.0 L334.3,329.1 L331.2,329.2 L328.1,329.3 L324.9,329.5 L321.8,329.7 L318.6,329.9 L315.5,330.2 L312.3,330.5 L309.2,330.9 L306.1,331.2 L303.0,331.5 L299.9,331.8 L296.8,332.0 L293.6,332.3 L290.5,332.5 L287.4,332.7 L284.3,333.0 L281.1,333.2 L278.0,333.4 L274.9,333.7 L271.7,333.9 L268.6,334.2 L265.5,334.5 L262.4,334.8 L259.2,335.1 L256.1,335.3 L253.0,335.6 L249.9,335.9 L246.7,336.2 L243.6,336.4 L240.5,336.7 L237.4,337.0 L234.3,337.2 L231.1,337.5 L228.0,337.7 L224.9,337.9 L221.7,338.0 L218.4,338.2 L215.0,338.4 L211.7,338.5 L208.5,338.7 L205.4,338.9 L202.5,339.0 L199.8,339.1 L197.5,339.3 L195.4,339.4 L193.4,339.5 L191.6,339.6 L189.9,339.7 L188.3,339.8 L186.6,339.9 L184.9,339.9 L183.2,340.0 L181.4,340.1 L179.7,340.1 L178.1,340.2 L176.5,340.2 L174.9,340.2 L173.5,340.2 L172.1,340.1 L170.9,340.0 L169.7,339.9 L168.6,339.8 L167.6,339.6 L166.6,339.4 L165.6,339.2 L164.6,339.0 L163.6,338.7 L162.7,338.4 L161.7,338.1 L160.8,337.8 L159.9,337.4 L158.9,337.0 L157.9,336.6 L156.9,336.2 L155.8,335.8 L154.7,335.4 L153.6,335.0 L152.5,334.6 L151.3,334.1 L150.1,333.7 L148.9,333.3 L147.7,333.0 L146.5,332.7 L145.4,332.5 L144.3,332.3 L143.2,332.1 L142.1,332.0 L141.1,331.9 L140.0,331.9 L138.9,331.9 L137.9,332.0 L136.8,332.1 L135.7,332.2 L134.7,332.4 L133.6,332.6 L132.6,332.8 L131.5,333.1 L130.4,333.4 L129.3,333.8 L128.1,334.2 L126.8,334.6 L125.6,335.1 L124.3,335.6 L123.0,336.1 L121.7,336.7 L120.4,337.2 L119.2,337.6 L117.9,338.1 L116.7,338.6 L115.4,339.1 L114.2,339.5 L112.9,340.0 L111.7,340.5 L110.5,340.9 L109.3,341.3 L108.0,341.7 L106.8,342.1 L105.6,342.5 L104.4,342.8 L103.1,343.2 L101.9,343.5 L100.7,343.8 L99.5,344.1 L98.4,344.3 L97.6,344.5 L97.0,344.7 L96.4,344.8 L95.6,345.0 L94.3,345.1 L92.5,345.2 L89.9,345.4 L86.3,345.5 L81.5,345.7 L76.0,345.8 L70.2,346.0 L64.5,346.1 L59.2,346.3 L54.8,346.4 L51.7,346.5Z" fill="url(#gk)"/>
<path d="M51.7,347.3 L53.1,347.3 L55.0,347.3 L57.2,347.3 L59.6,347.4 L62.2,347.4 L64.9,347.4 L67.6,347.4 L70.1,347.3 L72.6,347.3 L75.2,347.2 L77.9,347.2 L80.6,347.1 L83.3,347.0 L85.9,346.9 L88.2,346.7 L90.3,346.5 L92.1,346.3 L93.7,346.0 L95.1,345.7 L96.4,345.4 L97.5,345.1 L98.6,344.8 L99.6,344.5 L100.8,344.1 L102.0,343.8 L103.3,343.4 L104.5,343.1 L105.8,342.7 L107.1,342.3 L108.3,341.9 L109.6,341.5 L110.9,341.1 L112.2,340.7 L113.5,340.2 L114.9,339.7 L116.2,339.3 L117.5,338.8 L118.8,338.3 L119.9,337.9 L120.9,337.6 L121.7,337.3 L122.5,337.1 L123.1,336.9 L123.7,336.7 L124.2,336.5 L124.8,336.3 L125.3,336.1 L126.0,335.9 L126.6,335.6 L127.3,335.3 L127.9,335.1 L128.4,334.8 L129.0,334.6 L129.5,334.4 L130.1,334.1 L130.8,333.9 L131.6,333.7 L132.5,333.4 L133.5,333.1 L134.5,332.9 L135.5,332.7 L136.4,332.5 L137.3,332.3 L138.2,332.2 L139.0,332.2 L139.9,332.2 L140.8,332.3 L141.6,332.3 L142.5,332.5 L143.5,332.6 L144.4,332.8 L145.4,333.0 L146.4,333.2 L147.4,333.5 L148.5,333.8 L149.6,334.2 L150.7,334.6 L151.9,335.0 L153.0,335.4 L154.1,335.8 L155.1,336.2 L156.1,336.5 L157.1,336.9 L158.1,337.4 L159.1,337.8 L160.1,338.1 L161.2,338.5 L162.2,338.8 L163.2,339.1 L164.1,339.3 L165.0,339.6 L165.9,339.7 L166.8,339.9 L167.7,340.0 L168.7,340.1 L169.8,340.2 L171.0,340.3 L172.2,340.4 L173.5,340.4 L174.8,340.4 L176.1,340.4 L177.5,340.4 L178.8,340.4 L180.1,340.3 L181.4,340.3 L182.6,340.3 L183.9,340.2 L185.2,340.1 L186.4,340.0 L187.7,339.9 L188.9,339.8 L190.2,339.7 L191.3,339.7 L192.3,339.6 L193.3,339.6 L194.3,339.6 L195.4,339.5 L196.7,339.4 L198.3,339.3 L200.3,339.2 L202.7,339.0 L205.5,338.8 L208.6,338.5 L211.9,338.2 L215.3,338.0 L218.7,337.6 L222.1,337.3 L225.3,337.0 L228.4,336.7 L231.5,336.4 L234.6,336.2 L237.8,335.9 L240.9,335.7 L244.0,335.4 L247.2,335.1 L250.3,334.8 L253.5,334.4 L256.6,334.1 L259.8,333.7 L262.9,333.4 L266.0,333.0 L269.1,332.6 L272.3,332.2 L275.4,331.9 L278.5,331.5 L281.6,331.2 L284.7,330.8 L287.9,330.5 L291.0,330.2 L294.1,329.8 L297.2,329.6 L300.3,329.3 L303.4,329.0 L306.5,328.8 L309.6,328.6 L312.7,328.4 L315.8,328.2 L318.9,328.1 L322.0,327.9 L325.1,327.8 L328.2,327.7 L331.3,327.6 L334.4,327.6 L337.5,327.5 L340.6,327.5 L343.8,327.5 L346.9,327.5 L350.0,327.5 L353.1,327.5 L356.2,327.6 L359.3,327.6 L362.4,327.7 L365.5,327.8 L368.6,327.9 L371.8,328.0 L374.9,328.1 L378.1,328.2 L381.3,328.3 L384.5,328.4 L387.7,328.5 L390.9,328.7 L393.9,328.8 L396.9,328.9 L399.8,329.1 L402.5,329.3 L405.1,329.4 L407.6,329.6 L410.0,329.8 L412.4,330.0 L414.8,330.2 L417.2,330.5 L419.6,330.8 L422.0,331.1 L424.5,331.5 L426.9,331.9 L429.4,332.4 L431.9,332.8 L434.4,333.3 L436.9,333.8 L439.4,334.2 L441.9,334.7 L444.3,335.2 L446.8,335.7 L449.3,336.3 L451.8,336.8 L454.4,337.3 L456.9,337.8 L459.4,338.3 L462.0,338.7 L464.5,339.1 L467.0,339.5 L469.5,339.8 L472.0,340.2 L474.5,340.5 L477.0,340.9 L479.5,341.3 L482.1,341.7 L485.0,342.1 L487.9,342.5 L490.8,343.0 L493.5,343.4 L495.9,343.7 L498.0,344.0 L499.5,344.3 L500.5,337.7 L498.9,337.5 L496.9,337.2 L494.5,336.8 L491.7,336.4 L488.9,336.0 L486.0,335.6 L483.1,335.1 L480.5,334.7 L478.0,334.4 L475.5,334.0 L473.0,333.7 L470.5,333.3 L468.0,332.9 L465.5,332.6 L463.0,332.2 L460.6,331.7 L458.1,331.3 L455.6,330.8 L453.2,330.3 L450.7,329.8 L448.2,329.3 L445.7,328.8 L443.1,328.2 L440.6,327.8 L438.1,327.3 L435.6,326.8 L433.1,326.3 L430.6,325.9 L428.1,325.4 L425.5,325.0 L423.0,324.6 L420.4,324.2 L417.9,323.9 L415.5,323.6 L413.0,323.4 L410.6,323.2 L408.1,323.0 L405.6,322.8 L402.9,322.7 L400.2,322.5 L397.3,322.3 L394.3,322.2 L391.1,322.1 L387.9,321.9 L384.7,321.8 L381.5,321.7 L378.3,321.6 L375.1,321.5 L372.0,321.4 L368.9,321.3 L365.7,321.2 L362.6,321.1 L359.4,321.0 L356.3,321.0 L353.2,320.9 L350.0,320.9 L346.9,320.9 L343.7,320.9 L340.6,320.9 L337.5,320.9 L334.3,321.0 L331.2,321.0 L328.0,321.1 L324.9,321.2 L321.7,321.3 L318.6,321.5 L315.4,321.6 L312.3,321.8 L309.2,322.0 L306.0,322.2 L302.9,322.5 L299.7,322.7 L296.6,323.0 L293.4,323.3 L290.3,323.6 L287.1,323.9 L284.0,324.3 L280.9,324.6 L277.8,325.0 L274.6,325.3 L271.5,325.7 L268.4,326.0 L265.2,326.4 L262.1,326.8 L259.0,327.2 L255.9,327.5 L252.8,327.9 L249.7,328.2 L246.6,328.5 L243.5,328.8 L240.3,329.1 L237.2,329.3 L234.1,329.6 L231.0,329.9 L227.8,330.1 L224.7,330.4 L221.5,330.7 L218.1,331.1 L214.6,331.4 L211.2,331.8 L208.0,332.2 L204.9,332.6 L202.1,333.0 L199.7,333.2 L197.8,333.5 L196.2,333.6 L194.9,333.8 L193.8,333.9 L192.9,334.0 L192.0,334.1 L191.0,334.2 L189.8,334.3 L188.6,334.3 L187.3,334.4 L186.1,334.5 L184.8,334.6 L183.6,334.7 L182.4,334.8 L181.1,334.8 L179.9,334.9 L178.7,334.9 L177.4,334.9 L176.1,334.9 L174.8,334.9 L173.6,334.9 L172.4,334.9 L171.3,334.8 L170.2,334.8 L169.3,334.7 L168.4,334.6 L167.6,334.5 L166.9,334.3 L166.2,334.2 L165.4,334.0 L164.6,333.8 L163.8,333.6 L162.9,333.3 L162.0,333.0 L161.1,332.6 L160.1,332.2 L159.1,331.8 L158.1,331.4 L157.0,331.0 L155.9,330.6 L154.8,330.2 L153.7,329.8 L152.6,329.4 L151.4,329.0 L150.2,328.6 L149.0,328.2 L147.8,327.9 L146.6,327.6 L145.5,327.4 L144.4,327.2 L143.3,327.0 L142.2,326.9 L141.1,326.8 L140.1,326.7 L138.9,326.7 L137.8,326.8 L136.6,326.9 L135.4,327.1 L134.3,327.3 L133.1,327.6 L132.1,327.8 L131.0,328.1 L130.1,328.4 L129.2,328.7 L128.4,328.9 L127.6,329.2 L126.8,329.5 L126.2,329.8 L125.6,330.1 L125.1,330.3 L124.6,330.5 L124.0,330.7 L123.5,330.9 L123.0,331.1 L122.5,331.3 L122.0,331.4 L121.4,331.6 L120.7,331.8 L120.0,332.1 L119.1,332.4 L118.1,332.8 L116.9,333.2 L115.7,333.6 L114.4,334.1 L113.1,334.6 L111.7,335.0 L110.4,335.5 L109.1,335.9 L107.9,336.3 L106.7,336.7 L105.4,337.1 L104.2,337.4 L103.0,337.8 L101.7,338.2 L100.5,338.5 L99.2,338.9 L98.0,339.2 L96.9,339.6 L95.9,340.0 L94.9,340.3 L93.8,340.6 L92.7,340.9 L91.3,341.2 L89.7,341.5 L87.7,341.7 L85.5,342.0 L83.0,342.2 L80.4,342.4 L77.7,342.6 L75.0,342.7 L72.4,342.9 L69.9,343.1 L67.4,343.2 L64.8,343.3 L62.2,343.4 L59.6,343.5 L57.1,343.6 L54.9,343.6 L53.1,343.7 L51.7,343.7Z" fill="url(#gh)" opacity="0.8"/>
<path d="M51.7,346.9 L53.1,346.9 L55.0,346.9 L57.2,346.9 L59.6,346.9 L62.2,346.8 L64.9,346.8 L67.5,346.8 L70.1,346.7 L72.5,346.6 L75.2,346.5 L77.9,346.4 L80.6,346.3 L83.3,346.1 L85.8,346.0 L88.1,345.8 L90.2,345.6 L92.0,345.3 L93.5,345.0 L94.9,344.7 L96.1,344.4 L97.2,344.1 L98.2,343.8 L99.3,343.4 L100.5,343.1 L101.7,342.8 L103.0,342.5 L104.2,342.1 L105.5,341.8 L106.8,341.4 L108.0,341.0 L109.3,340.7 L110.6,340.3 L111.9,339.9 L113.2,339.4 L114.6,339.0 L116.0,338.5 L117.3,338.1 L118.5,337.6 L119.7,337.3 L120.7,336.9 L121.5,336.6 L122.3,336.4 L122.9,336.2 L123.5,336.0 L124.0,335.9 L124.5,335.7 L125.1,335.5 L125.7,335.3 L126.4,335.0 L127.0,334.8 L127.6,334.5 L128.2,334.3 L128.7,334.0 L129.3,333.8 L129.9,333.6 L130.6,333.4 L131.5,333.2 L132.4,332.9 L133.4,332.6 L134.3,332.3 L135.3,332.1 L136.3,331.9 L137.3,331.8 L138.1,331.7 L139.0,331.6 L139.9,331.6 L140.8,331.7 L141.7,331.8 L142.6,331.9 L143.6,332.0 L144.5,332.2 L145.5,332.4 L146.5,332.6 L147.6,332.9 L148.7,333.3 L149.8,333.6 L150.9,334.0 L152.1,334.4 L153.2,334.8 L154.3,335.2 L155.3,335.6 L156.3,335.9 L157.3,336.3 L158.3,336.8 L159.4,337.2 L160.4,337.5 L161.4,337.9 L162.4,338.2 L163.4,338.5 L164.2,338.7 L165.1,338.9 L166.0,339.1 L166.9,339.2 L167.8,339.4 L168.8,339.5 L169.8,339.6 L171.0,339.6 L172.2,339.7 L173.5,339.7 L174.8,339.7 L176.1,339.7 L177.5,339.7 L178.8,339.7 L180.1,339.6 L181.3,339.6 L182.6,339.5 L183.9,339.5 L185.1,339.4 L186.4,339.3 L187.6,339.2 L188.9,339.1 L190.1,339.0 L191.3,338.9 L192.3,338.9 L193.2,338.8 L194.2,338.7 L195.3,338.7 L196.6,338.6 L198.2,338.4 L200.2,338.3 L202.6,338.0 L205.4,337.8 L208.5,337.5 L211.8,337.2 L215.2,336.8 L218.6,336.5 L222.0,336.1 L225.2,335.8 L228.3,335.6 L231.4,335.3 L234.6,335.0 L237.7,334.8 L240.8,334.5 L243.9,334.2 L247.1,333.9 L250.2,333.6 L253.4,333.3 L256.5,333.0 L259.6,332.6 L262.8,332.2 L265.9,331.8 L269.0,331.5 L272.1,331.1 L275.2,330.7 L278.4,330.4 L281.5,330.0 L284.6,329.7 L287.7,329.4 L290.8,329.0 L294.0,328.7 L297.1,328.4 L300.2,328.1 L303.3,327.9 L306.4,327.7 L309.5,327.4 L312.6,327.3 L315.7,327.1 L318.9,326.9 L322.0,326.8 L325.1,326.6 L328.2,326.5 L331.3,326.5 L334.4,326.4 L337.5,326.4 L340.6,326.3 L343.8,326.3 L346.9,326.3 L350.0,326.3 L353.1,326.4 L356.2,326.4 L359.3,326.5 L362.4,326.6 L365.6,326.7 L368.7,326.7 L371.8,326.8 L374.9,326.9 L378.1,327.0 L381.3,327.2 L384.5,327.3 L387.7,327.4 L390.9,327.5 L394.0,327.6 L397.0,327.8 L399.9,327.9 L402.6,328.1 L405.2,328.3 L407.7,328.5 L410.1,328.6 L412.5,328.8 L414.9,329.1 L417.3,329.3 L419.7,329.6 L422.2,330.0 L424.7,330.4 L427.1,330.8 L429.6,331.2 L432.1,331.7 L434.6,332.2 L437.1,332.6 L439.6,333.1 L442.1,333.6 L444.6,334.1 L447.1,334.6 L449.6,335.1 L452.1,335.7 L454.6,336.2 L457.1,336.7 L459.6,337.1 L462.2,337.5 L464.7,337.9 L467.2,338.3 L469.7,338.7 L472.2,339.0 L474.7,339.4 L477.2,339.8 L479.7,340.1 L482.3,340.5 L485.1,340.9 L488.1,341.4 L490.9,341.8 L493.6,342.2 L496.1,342.6 L498.1,342.9 L499.7,343.1 L500.3,338.9 L498.8,338.6 L496.7,338.3 L494.3,338.0 L491.6,337.6 L488.7,337.1 L485.8,336.7 L483.0,336.3 L480.3,335.9 L477.8,335.5 L475.3,335.1 L472.8,334.8 L470.3,334.4 L467.8,334.1 L465.3,333.7 L462.8,333.3 L460.4,332.9 L457.9,332.4 L455.4,331.9 L452.9,331.4 L450.4,330.9 L447.9,330.4 L445.4,329.9 L442.9,329.4 L440.4,328.9 L437.9,328.4 L435.4,327.9 L432.9,327.5 L430.4,327.0 L427.9,326.5 L425.3,326.1 L422.8,325.7 L420.3,325.4 L417.8,325.1 L415.3,324.8 L412.9,324.6 L410.5,324.4 L408.0,324.2 L405.5,324.0 L402.9,323.8 L400.1,323.7 L397.2,323.5 L394.2,323.3 L391.1,323.2 L387.9,323.1 L384.7,323.0 L381.4,322.9 L378.2,322.8 L375.1,322.7 L371.9,322.6 L368.8,322.5 L365.7,322.4 L362.6,322.3 L359.4,322.2 L356.3,322.1 L353.2,322.1 L350.0,322.1 L346.9,322.0 L343.7,322.0 L340.6,322.0 L337.5,322.1 L334.3,322.1 L331.2,322.2 L328.1,322.2 L324.9,322.4 L321.8,322.5 L318.6,322.6 L315.5,322.8 L312.4,323.0 L309.2,323.2 L306.1,323.4 L303.0,323.6 L299.8,323.9 L296.7,324.1 L293.5,324.4 L290.4,324.7 L287.3,325.1 L284.1,325.4 L281.0,325.8 L277.9,326.1 L274.8,326.5 L271.6,326.8 L268.5,327.2 L265.4,327.6 L262.2,327.9 L259.1,328.3 L256.0,328.7 L252.9,329.0 L249.8,329.4 L246.7,329.7 L243.6,330.0 L240.4,330.2 L237.3,330.5 L234.2,330.7 L231.1,331.0 L227.9,331.3 L224.8,331.6 L221.6,331.9 L218.2,332.2 L214.7,332.6 L211.3,332.9 L208.1,333.3 L205.0,333.6 L202.2,333.9 L199.8,334.1 L197.8,334.3 L196.3,334.5 L195.0,334.6 L193.9,334.7 L192.9,334.8 L192.0,334.8 L191.0,334.9 L189.9,335.0 L188.6,335.1 L187.4,335.2 L186.1,335.3 L184.9,335.3 L183.6,335.4 L182.4,335.5 L181.2,335.5 L179.9,335.6 L178.7,335.6 L177.4,335.6 L176.1,335.6 L174.8,335.6 L173.6,335.6 L172.4,335.6 L171.2,335.5 L170.2,335.4 L169.2,335.3 L168.3,335.2 L167.5,335.1 L166.8,335.0 L166.0,334.8 L165.3,334.6 L164.4,334.4 L163.6,334.2 L162.7,333.9 L161.8,333.6 L160.9,333.2 L159.9,332.8 L158.9,332.4 L157.9,332.0 L156.8,331.6 L155.7,331.2 L154.6,330.8 L153.5,330.4 L152.4,330.0 L151.2,329.6 L150.0,329.2 L148.8,328.8 L147.6,328.5 L146.5,328.2 L145.4,328.0 L144.3,327.8 L143.2,327.6 L142.2,327.5 L141.1,327.4 L140.0,327.3 L139.0,327.3 L137.9,327.3 L136.7,327.4 L135.5,327.6 L134.4,327.8 L133.3,328.1 L132.2,328.4 L131.2,328.7 L130.2,328.9 L129.4,329.2 L128.5,329.5 L127.8,329.8 L127.1,330.1 L126.4,330.3 L125.9,330.6 L125.3,330.9 L124.8,331.1 L124.3,331.3 L123.7,331.5 L123.2,331.7 L122.7,331.9 L122.2,332.1 L121.6,332.3 L121.0,332.5 L120.2,332.8 L119.3,333.1 L118.3,333.5 L117.2,333.9 L116.0,334.3 L114.7,334.8 L113.3,335.3 L112.0,335.8 L110.7,336.3 L109.4,336.7 L108.2,337.2 L107.0,337.6 L105.7,338.0 L104.5,338.4 L103.3,338.8 L102.0,339.1 L100.8,339.5 L99.5,339.9 L98.3,340.3 L97.2,340.6 L96.2,341.0 L95.2,341.3 L94.1,341.6 L92.9,341.9 L91.5,342.2 L89.8,342.4 L87.8,342.7 L85.5,342.9 L83.1,343.0 L80.4,343.2 L77.7,343.4 L75.0,343.5 L72.4,343.6 L69.9,343.7 L67.5,343.8 L64.8,343.9 L62.2,343.9 L59.6,344.0 L57.1,344.0 L54.9,344.0 L53.1,344.1 L51.7,344.1Z" fill="url(#gm)"/>
</g>
<g fill="none" stroke-linecap="butt">
<path d="M445,330 L477,344.5" stroke="#7a2ba0" stroke-width="5"/>
<path d="M494,340.5 L510,343.5" stroke="#8a78d0" stroke-width="4.5"/>
<path d="M505,343.5 L531,343.5" stroke="#0a0a28" stroke-width="4.5"/>
</g>
<g fill="#000">
<rect x="48" y="9.3" width="3.7" height="341.2"/>
<rect x="48" y="9.3" width="485.5" height="2.7"/>
<rect x="530.5" y="9.3" width="3" height="341.2"/>
<rect x="48" y="346.5" width="485.5" height="4"/>
<rect x="48" y="8.7" width="7.3" height="3.8"/>
<rect x="51" y="66.2" width="8.8" height="1.6"/>
<rect x="51" y="122.6" width="8.8" height="1.6"/>
<rect x="51" y="179.0" width="8.8" height="1.6"/>
<rect x="51" y="235.4" width="8.8" height="1.6"/>
<rect x="46.8" y="290.3" width="15.9" height="4.6"/>
<rect x="144.0" y="338.5" width="5" height="13"/>
<rect x="192.1" y="338.5" width="5" height="13"/>
<rect x="240.2" y="338.5" width="5" height="13"/>
<rect x="288.4" y="338.5" width="5" height="13"/>
<rect x="336.5" y="338.5" width="5" height="13"/>
<rect x="384.6" y="338.5" width="5" height="13"/>
<rect x="432.7" y="338.5" width="5" height="13"/>
<rect x="480.9" y="338.5" width="5" height="13"/>
</g>
<path d="M499,343.5 L516,348" stroke="#4a2090" stroke-width="3" fill="none" opacity="0.85"/>
<g opacity="0.995">
<text transform="translate(38.3,356.2) scale(1,1.090)" font-size="17" text-anchor="end">0</text>
<text transform="translate(42.5,299.6) scale(1,1.090)" font-size="17" text-anchor="end">10</text>
<text transform="translate(42.5,243.2) scale(1,1.090)" font-size="17" text-anchor="end">20</text>
<text transform="translate(42.5,186.8) scale(1,1.090)" font-size="17" text-anchor="end">30</text>
<text transform="translate(42.5,130.4) scale(1,1.090)" font-size="17" text-anchor="end">40</text>
<text transform="translate(42.5,74.0) scale(1,1.090)" font-size="17" text-anchor="end">50</text>
<text transform="translate(42.5,17.6) scale(1,1.090)" font-size="17" text-anchor="end">60</text>
<text transform="translate(50.7,371.3) scale(1,1.100)" font-size="17" text-anchor="middle">400</text>
<text transform="translate(98.8,371.3) scale(1,1.100)" font-size="17" text-anchor="middle">420</text>
<text transform="translate(147.0,371.3) scale(1,1.100)" font-size="17" text-anchor="middle">440</text>
<text transform="translate(195.1,371.3) scale(1,1.100)" font-size="17" text-anchor="middle">460</text>
<text transform="translate(243.2,371.3) scale(1,1.100)" font-size="17" text-anchor="middle">480</text>
<text transform="translate(291.4,371.3) scale(1,1.100)" font-size="17" text-anchor="middle">500</text>
<text transform="translate(339.5,371.3) scale(1,1.100)" font-size="17" text-anchor="middle">520</text>
<text transform="translate(387.6,371.3) scale(1,1.100)" font-size="17" text-anchor="middle">540</text>
<text transform="translate(435.7,371.3) scale(1,1.100)" font-size="17" text-anchor="middle">560</text>
<text transform="translate(483.9,371.3) scale(1,1.100)" font-size="17" text-anchor="middle">580</text>
<text transform="translate(532.0,371.3) scale(1,1.100)" font-size="17" text-anchor="middle">600</text>
<text transform="translate(284.0,396.0) scale(1,1.060)" font-size="18" text-anchor="middle">Wavelength (nm)</text>
<text transform="translate(15.6,277.6) rotate(-90)" font-size="18.4" textLength="121" lengthAdjust="spacingAndGlyphs">Fluorescence</text>
<text transform="translate(15.6,150.2) rotate(-90)" font-size="18.4" textLength="78" lengthAdjust="spacingAndGlyphs">Intensity</text>
<text transform="translate(226.0,63.6) scale(1,1.130)" font-size="15.6" text-anchor="middle" stroke-width="0.55">G1</text>
<text transform="translate(229.4,132.7) scale(1,1.150)" font-size="15.6" text-anchor="middle" stroke-width="0.55">G2</text>
<text transform="translate(355.5,284.3) scale(1,1.060)" font-size="15.8" text-anchor="middle" stroke-width="0.5">ANS</text>
<text transform="translate(355.6,321.4) scale(1,1.060)" font-size="15.8" text-anchor="middle" stroke-width="0.5">G0</text>
<text transform="translate(152.5,303.5) scale(1,1.050)" font-size="16" text-anchor="start">pNP-6S-GlcNAc</text>
</g>
<path d="M235,306 L251,335" stroke="#000" stroke-width="1.4" fill="none"/>
</svg>
</body></html>
